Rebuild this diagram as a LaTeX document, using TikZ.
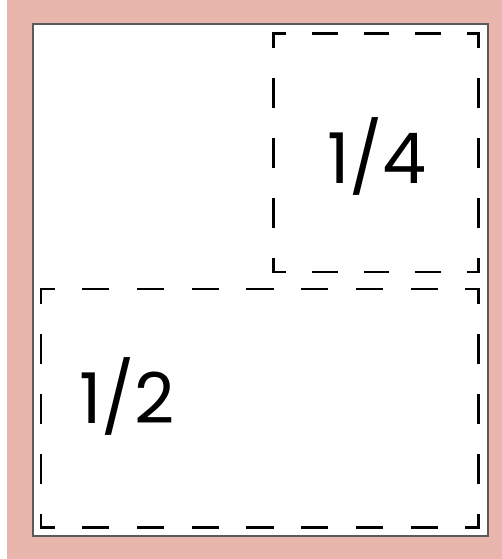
\documentclass[tikz,border=0pt]{standalone}
\usepackage{fontspec}
\setmainfont{Poppins}
\definecolor{pinkbg}{HTML}{E9B6AE}
\definecolor{frame}{HTML}{5A5A5A}
\tikzset{
  side/.style={line width=2.5pt, line cap=rect, black},
  toph/.style={side, dash pattern=on 23.25pt off 28.25pt, dash phase=11.625pt},
  topv/.style={side, dash pattern=on 27.375pt off 32.375pt, dash phase=13.69pt},
  both/.style={side, dash pattern=on 24.875pt off 29.875pt, dash phase=12.44pt},
  botv/.style={side, dash pattern=on 27.46pt off 32.46pt, dash phase=13.73pt},
  frac/.style={font=\fontsize{70}{70}\selectfont, inner sep=0pt, anchor=base}
}
\begin{document}
\begin{tikzpicture}[x=1pt,y=-1pt]
\useasboundingbox (0,0) rectangle (502,559);
\fill[white] (0,0) rectangle (502,559);
\fill[pinkbg] (7,0) rectangle (502,559);
\draw[frame, fill=white, line width=1.3pt] (33,24) rectangle (488,536);
% top-right quarter
\coordinate (q1) at (273.5,33.5);
\coordinate (q2) at (478.5,33.5);
\coordinate (q3) at (478.5,272);
\coordinate (q4) at (273.5,272);
\draw[toph] (q1) -- (q2);
\draw[toph] (q4) -- (q3);
\draw[topv] (q1) -- (q4);
\draw[topv] (q2) -- (q3);
% bottom half
\coordinate (h1) at (41,289);
\coordinate (h2) at (478.5,289);
\coordinate (h3) at (478.5,527.5);
\coordinate (h4) at (41,527.5);
\draw[both] (h1) -- (h2);
\draw[both] (h4) -- (h3);
\draw[botv] (h1) -- (h4);
\draw[botv] (h2) -- (h3);
\node[frac] (quarter) at (377,183) {1/4};
\node[frac] (half) at (127,423) {1/2};
\end{tikzpicture}
\end{document}
